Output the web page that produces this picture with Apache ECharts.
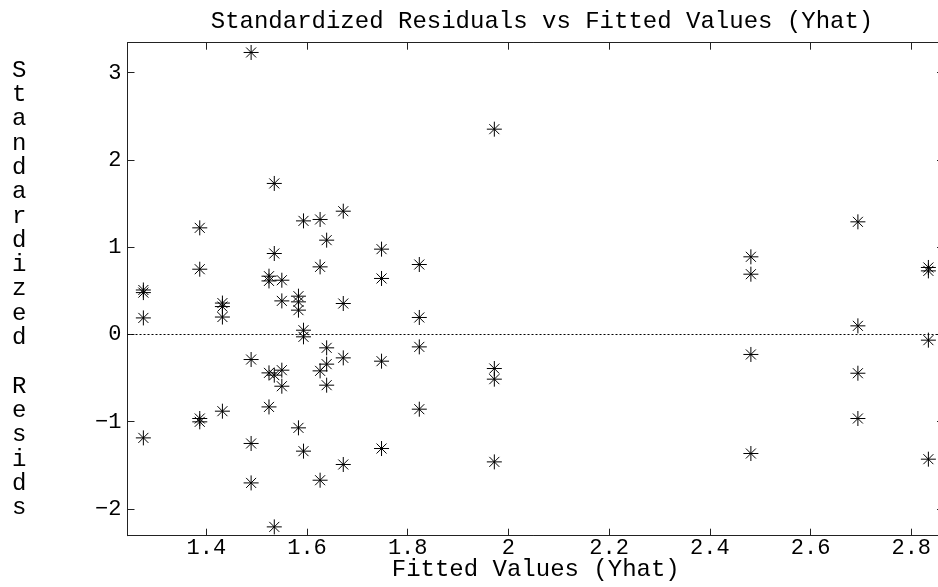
<!DOCTYPE html>
<html>
<head>
<meta charset="utf-8">
<script src="https://cdn.jsdelivr.net/npm/echarts@6/dist/echarts.min.js"></script>
<style>
  html, body { margin: 0; padding: 0; background: #fff; }
  #chart { width: 938px; height: 587px; }
</style>
</head>
<body>
<div id="chart"></div>
<script>
// ---- Data ----
const chartTitle = 'Standardized Residuals vs Fitted Values (Yhat)';
const xAxisTitle = 'Fitted Values (Yhat)';
const yAxisTitle = 'Standardized Resids';

const fittedValues = [
  1.275, 1.275, 1.275, 1.275,
  1.387, 1.387, 1.387, 1.387,
  1.432, 1.432, 1.432, 1.432,
  1.489, 1.489, 1.489, 1.489,
  1.5245, 1.5245, 1.5245, 1.5245,
  1.535, 1.535, 1.535, 1.535,
  1.550, 1.550, 1.550, 1.550,
  1.583, 1.583, 1.583, 1.583,
  1.593, 1.593, 1.593, 1.593,
  1.626, 1.626, 1.626, 1.626,
  1.639, 1.639, 1.639, 1.639,
  1.672, 1.672, 1.672, 1.672,
  1.748, 1.748, 1.748, 1.748,
  1.823, 1.823, 1.823, 1.823,
  1.972, 1.972, 1.972, 1.972,
  2.4815, 2.4815, 2.4815, 2.4815,
  2.694, 2.694, 2.694, 2.694,
  2.834, 2.834, 2.834, 2.834
];
const stdResiduals = [
  0.51, 0.48, 0.19, -1.185,
  1.222, 0.748, -0.963, -1.001,
  0.36, 0.32, 0.20, -0.879,
  3.232, -0.287, -1.249, -1.701,
  0.668, 0.614, -0.440, -0.830,
  1.731, 0.928, -0.466, -2.205,
  0.622, 0.385, -0.409, -0.593,
  0.439, 0.374, 0.279, -1.070,
  1.302, 0.049, -0.027, -1.337,
  1.318, 0.775, -0.417, -1.670,
  1.081, -0.153, -0.340, -0.581,
  1.413, 0.355, -0.268, -1.490,
  0.978, 0.642, -0.306, -1.307,
  0.802, 0.195, -0.142, -0.856,
  2.353, -0.390, -0.512, -1.460,
  0.890, 0.691, -0.229, -1.364,
  1.291, 0.099, -0.444, -0.963,
  0.768, 0.729, -0.065, -1.429
];

const xTickValues = [1.4, 1.6, 1.8, 2.0, 2.2, 2.4, 2.6, 2.8];
const xTickLabels = ['1.4', '1.6', '1.8', '2', '2.2', '2.4', '2.6', '2.8'];
const yTickValues = [-2, -1, 0, 1, 2, 3];
const yTickLabels = ['\u22122', '\u22121', '0', '1', '2', '3'];

const xRange = [1.2435, 2.865];
const yRange = [-2.306, 3.344];

// ---- Chart ----
const FONT = '"Courier New", "Liberation Mono", monospace';
const AXIS_COLOR = '#222';

const points = fittedValues.map((x, i) => [x, stdResiduals[i]]);

function xLabelFmt(v) {
  const i = xTickValues.findIndex(t => Math.abs(t - v) < 1e-9);
  return i >= 0 ? xTickLabels[i] : '';
}
function yLabelFmt(v) {
  const i = yTickValues.findIndex(t => Math.abs(t - v) < 1e-9);
  return i >= 0 ? yTickLabels[i] : '';
}

const chart = echarts.init(document.getElementById('chart'), null, { renderer: 'canvas' });

const baseAxisX = {
  type: 'value',
  min: xRange[0],
  max: xRange[1],
  splitLine: { show: false },
  axisLine: { show: true, onZero: false, lineStyle: { color: AXIS_COLOR, width: 1 } },
  axisTick: { show: true, inside: true, length: 7, customValues: xTickValues, lineStyle: { color: AXIS_COLOR } }
};
const baseAxisY = {
  type: 'value',
  min: yRange[0],
  max: yRange[1],
  splitLine: { show: false },
  axisLine: { show: true, onZero: false, lineStyle: { color: AXIS_COLOR, width: 1 } },
  axisTick: { show: true, inside: true, length: 7, customValues: yTickValues, lineStyle: { color: AXIS_COLOR } }
};

const option = {
  backgroundColor: '#fff',
  animation: false,
  title: {
    text: chartTitle,
    left: 537,
    top: 5,
    textAlign: 'center',
    textStyle: { fontFamily: FONT, fontSize: 24, fontWeight: 'normal', color: '#000' }
  },
  grid: {
    left: 127.5, top: 42.7, width: 816.5, height: 493,
    containLabel: false,
    outerBoundsMode: 'none'
  },
  xAxis: [
    Object.assign({}, baseAxisX, {
      position: 'bottom',
      name: xAxisTitle,
      nameLocation: 'middle',
      nameGap: 22,
      nameMoveOverlap: false,
      nameTextStyle: { fontFamily: FONT, fontSize: 24, color: '#000' },
      axisLabel: {
        show: true, customValues: xTickValues, formatter: xLabelFmt, margin: 1,
        fontFamily: FONT, fontSize: 22, color: '#000'
      }
    }),
    Object.assign({}, baseAxisX, {
      position: 'top',
      axisLabel: { show: false }
    })
  ],
  yAxis: [
    Object.assign({}, baseAxisY, {
      position: 'left',
      axisLabel: {
        show: true, customValues: yTickValues, formatter: yLabelFmt, margin: 6,
        fontFamily: FONT, fontSize: 22, color: '#000'
      }
    }),
    Object.assign({}, baseAxisY, {
      position: 'right',
      axisLabel: { show: false }
    })
  ],
  graphic: [{
    type: 'text',
    left: 19 - 7,
    top: 58,
    style: {
      text: yAxisTitle.split('').join('\n'),
      fontFamily: FONT,
      fontSize: 24,
      lineHeight: 24.33,
      fill: '#000',
      align: 'center'
    }
  }],
  series: [{
    type: 'scatter',
    xAxisIndex: 0,
    yAxisIndex: 0,
    data: points,
    symbol: 'path://M7.5,0L7.5,15M0,7.5L15,7.5M2.5,2.5L12.5,12.5M2.5,12.5L12.5,2.5',
    symbolSize: 15,
    itemStyle: { color: 'none', borderColor: '#000', borderWidth: 1, opacity: 1 },
    emphasis: { disabled: true },
    silent: true,
    markLine: {
      silent: true,
      symbol: ['none', 'none'],
      label: { show: false },
      lineStyle: { color: '#000', type: [2, 2], width: 1 },
      data: [{ yAxis: 0 }]
    }
  }]
};

chart.setOption(option);
</script>
</body>
</html>
